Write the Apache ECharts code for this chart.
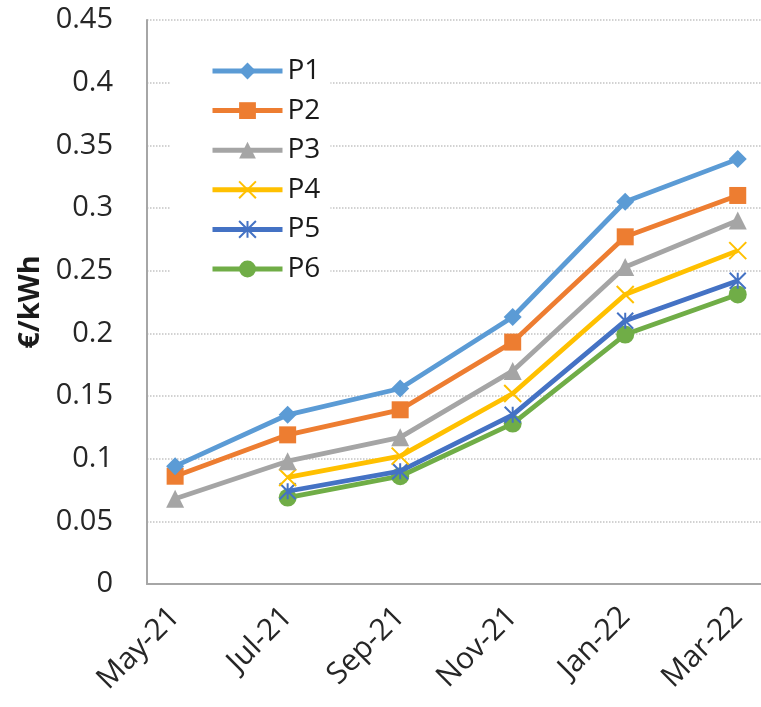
<!DOCTYPE html>
<html>
<head>
<meta charset="utf-8">
<script src="https://cdn.jsdelivr.net/npm/echarts@6/dist/echarts.min.js"></script>
<style>
  html, body { margin: 0; padding: 0; background: #fff; }
  #chart { width: 761px; height: 707px; }
</style>
</head>
<body>
<div id="chart"></div>
<script>
// Months shown along the bottom axis
const months = ['May-21', 'Jul-21', 'Sep-21', 'Nov-21', 'Jan-22', 'Mar-22'];

// Price per period, €/kWh (null = no value for that month)
const p1 = [0.094, 0.135, 0.156, 0.213, 0.305, 0.339];
const p2 = [0.086, 0.119, 0.139, 0.193, 0.277, 0.310];
const p3 = [0.068, 0.098, 0.117, 0.170, 0.253, 0.290];
const p4 = [null, 0.085, 0.102, 0.152, 0.231, 0.266];
const p5 = [null, 0.074, 0.090, 0.135, 0.210, 0.242];
const p6 = [null, 0.069, 0.086, 0.128, 0.199, 0.231];

const seriesNames = ['P1', 'P2', 'P3', 'P4', 'P5', 'P6'];
const yTicks = [0, 0.05, 0.1, 0.15, 0.2, 0.25, 0.3, 0.35, 0.4, 0.45];

const seriesValues = [p1, p2, p3, p4, p5, p6];
const colors = ['#5b9bd5', '#ed7d31', '#a5a5a5', '#ffc000', '#4472c4', '#70ad47'];
const symbols = [
  'diamond',
  'rect',
  'triangle',
  'path://M0,0L10,10M10,0L0,10',
  'path://M0,0L10,10M10,0L0,10M5,0L5,10',
  'circle'
];
const symbolSizes = [18, 17, 18, 17, 16, 18];
const FONT = '"Open Sans", sans-serif';

const chart = echarts.init(document.getElementById('chart'), null, { renderer: 'canvas' });

const series = seriesNames.map((name, k) => {
  const stroked = k === 3 || k === 4;
  return {
    name: name,
    type: 'line',
    data: seriesValues[k].map((v, i) => [i, v]),
    symbol: symbols[k],
    symbolSize: symbolSizes[k],
    showSymbol: true,
    connectNulls: false,
    lineStyle: { color: colors[k], width: 4.8 },
    itemStyle: stroked
      ? { color: colors[k], borderColor: colors[k], borderWidth: 2 }
      : { color: colors[k], borderWidth: 0 },
    emphasis: { disabled: true },
    z: 10 - k
  };
});

chart.setOption({
  animation: false,
  backgroundColor: '#fff',
  textStyle: { fontFamily: FONT },
  grid: { left: 147, top: 20, height: 564, width: 647, outerBoundsMode: 'none', containLabel: false },
  legend: {
    orient: 'vertical',
    left: 170,
    top: 48,
    data: seriesNames,
    itemWidth: 70,
    itemHeight: 21,
    itemGap: 9.6,
    padding: [8, 10, 8, 40],
    backgroundColor: '#fff',
    lineStyle: { width: 5 },
    textStyle: { fontSize: 28, lineHeight: 30, color: '#1a1a1a', fontFamily: FONT }
  },
  xAxis: {
    type: 'value',
    min: -0.25,
    max: 5.5,
    splitLine: { show: false },
    axisTick: { show: false },
    axisLine: { show: true, lineStyle: { color: '#a6a6a6', width: 2 } },
    axisLabel: {
      customValues: months.map((m, i) => i),
      formatter: v => months[Math.round(v)],
      rotate: 45,
      margin: 28,
      fontSize: 30,
      color: '#262626',
      fontFamily: FONT
    }
  },
  yAxis: {
    type: 'value',
    min: 0,
    max: 0.45,
    interval: 0.05,
    name: '€/kWh',
    nameLocation: 'middle',
    nameGap: 100,
    nameRotate: 90,
    nameTextStyle: { fontSize: 29, fontWeight: 'bold', color: '#1a1a1a', fontFamily: FONT },
    axisLine: { show: true, onZero: false, lineStyle: { color: '#a6a6a6', width: 2 } },
    axisTick: { show: false },
    splitLine: { show: true, lineStyle: { color: '#c4c4c4', type: 'dotted', width: 1.5 } },
    axisLabel: {
      margin: 34,
      fontSize: 29,
      color: '#262626',
      fontFamily: FONT,
      formatter: v => {
        const t = yTicks.find(y => Math.abs(y - v) < 1e-9);
        return String(t !== undefined ? t : +v.toFixed(2));
      }
    }
  },
  series: series
});
</script>
</body>
</html>
